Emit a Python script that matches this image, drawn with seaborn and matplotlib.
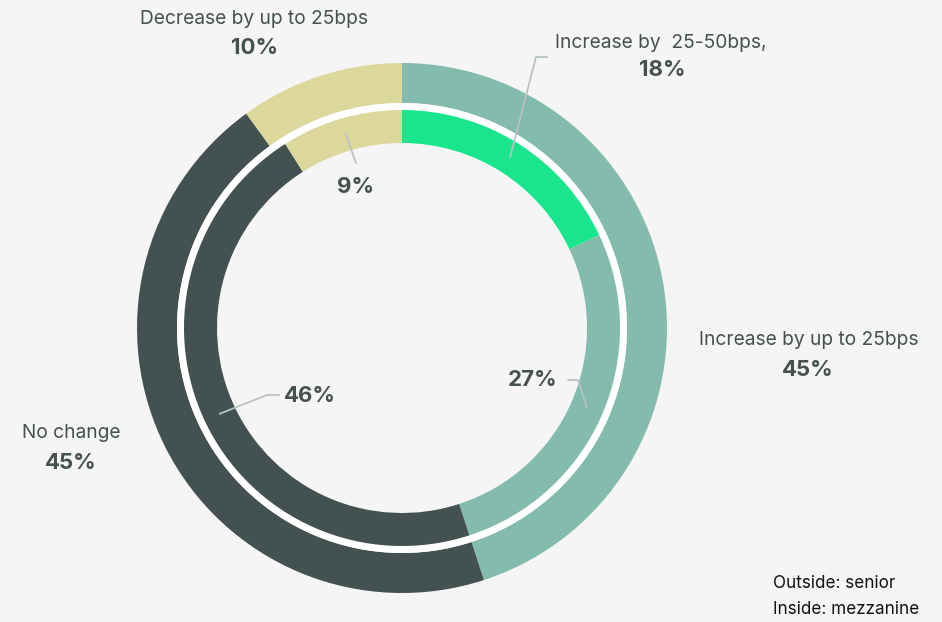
import numpy as np
import matplotlib
matplotlib.use("Agg")
import matplotlib.pyplot as plt
import seaborn as sns

# Expected change in pricing: senior (outer ring) vs mezzanine (inner ring)
senior_labels = ["Increase by up to 25bps", "No change", "Decrease by up to 25bps"]
senior_values = [45, 45, 10]
mezz_labels = ["Increase by  25-50bps,", "Increase by up to 25bps", "No change", "Decrease by up to 25bps"]
mezz_values = [18, 27, 46, 9]

palette = {
    "Increase by  25-50bps,": "#19e68c",
    "Increase by up to 25bps": "#83bbad",
    "No change": "#435150",
    "Decrease by up to 25bps": "#dcd89b",
}

sns.set_theme(style="white")
plt.rcParams["font.family"] = ["Inter", "DejaVu Sans"]

BG = "#f5f5f5"
TXT = "#45504f"
LEAD = "#b9c3c4"

W, H = 942, 622
fig = plt.figure(figsize=(W / 100, H / 100), dpi=100, facecolor=BG)
ax = fig.add_axes([0, 0, 1, 1])
ax.set_facecolor(BG)

cx, cy = 402, H - 328
R_OUT, W_OUT = 265, 40
R_IN, W_IN = 218, 33

ax.pie(senior_values, radius=R_OUT, center=(cx, cy), startangle=90, counterclock=False,
       colors=[palette[l] for l in senior_labels],
       wedgeprops=dict(width=W_OUT, linewidth=0))
# white separator ring between the two series
ax.pie([1], radius=R_OUT - W_OUT, center=(cx, cy), colors=["white"],
       wedgeprops=dict(width=R_OUT - W_OUT - R_IN, linewidth=0))
ax.pie(mezz_values, radius=R_IN, center=(cx, cy), startangle=90, counterclock=False,
       colors=[palette[l] for l in mezz_labels],
       wedgeprops=dict(width=W_IN, linewidth=0))

ax.set_xlim(0, W)
ax.set_ylim(0, H)
ax.set_aspect("equal")
ax.axis("off")


def ring_point(values, idx, r):
    """Point at radius r on the middle of wedge idx (clockwise from 12 o'clock)."""
    frac = (sum(values[:idx]) + values[idx] / 2) / sum(values)
    ang = np.deg2rad(frac * 360)
    return cx + r * np.sin(ang), cy + r * np.cos(ang)


def y(py):
    return H - py


reg = dict(fontsize=13.8, color=TXT, ha="center", va="center")
bold = dict(fontsize=16, color=TXT, ha="center", va="center", fontweight="bold")

# outer ring labels
ax.text(254, y(19), senior_labels[2], **reg)
ax.text(254, y(48), f"{senior_values[2]}%", **bold)
ax.text(809, y(340), senior_labels[0], **reg)
ax.text(808, y(370), f"{senior_values[0]}%", **bold)
ax.text(71, y(433), senior_labels[1], **reg)
ax.text(71, y(463), f"{senior_values[1]}%", **bold)

# inner ring labels with leader lines
r_mid = R_IN - W_IN / 2

ax.text(661, y(43), mezz_labels[0], **reg)
ax.text(662, y(70), f"{mezz_values[0]}%", **bold)
px, py = ring_point(mezz_values, 0, r_mid)
ax.plot([px, 536, 548], [py, y(57), y(57)], color=LEAD, lw=1.3, solid_capstyle="butt")

ax.text(356, y(187), f"{mezz_values[3]}%", **bold)
px, py = ring_point(mezz_values, 3, r_mid)
ax.plot([px, 356], [py, y(163)], color=LEAD, lw=1.3)

ax.text(310, y(396), f"{mezz_values[2]}%", **bold)
px, py = ring_point(mezz_values, 2, r_mid)
ax.plot([px, 267, 279], [py, y(395), y(395)], color=LEAD, lw=1.3)

ax.text(533, y(380), f"{mezz_values[1]}%", **bold)
px, py = ring_point(mezz_values, 1, r_mid)
ax.plot([568, 578, px], [y(380), y(380), py], color=LEAD, lw=1.3)

# ring key
ax.text(773, y(584), "Outside: senior", fontsize=12.3, color="#111111", ha="left", va="center")
ax.text(773, y(610), "Inside: mezzanine", fontsize=12.3, color="#111111", ha="left", va="center")

fig.savefig("out.png", dpi=100, facecolor=BG)
